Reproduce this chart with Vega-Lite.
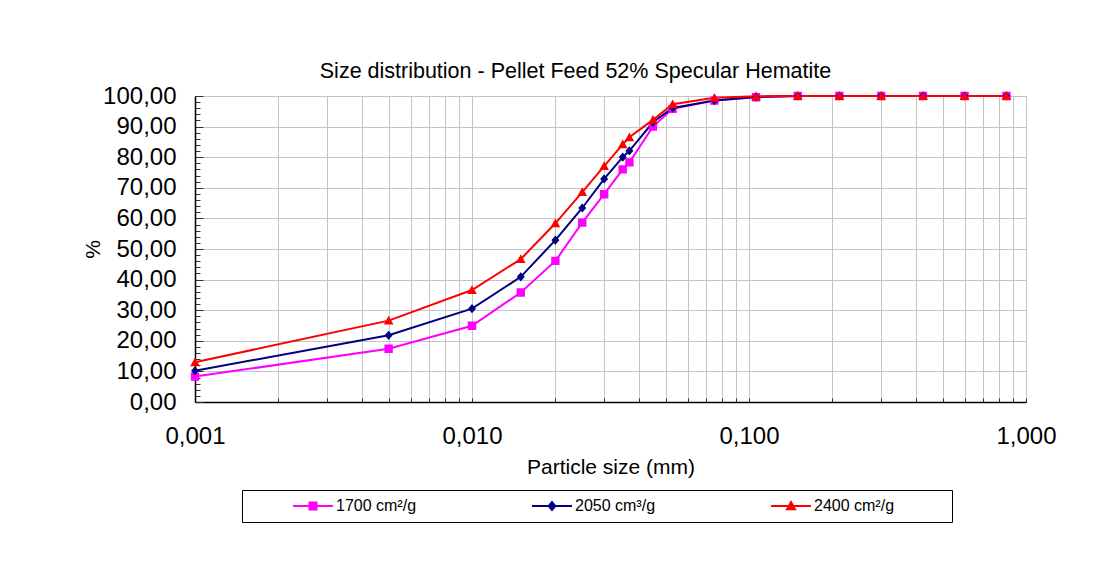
{
  "$schema": "https://vega.github.io/schema/vega-lite/v6.json",
  "width": 831,
  "height": 306,
  "autosize": {"type": "none"},
  "padding": {"left": 195, "top": 96, "right": 79, "bottom": 166},
  "background": "white",
  "config": {
    "font": "Liberation Sans",
    "view": {"stroke": "#8c8c8c", "strokeWidth": 1},
    "legend": {
      "orient": "none", "legendX": 47, "legendY": 394, "direction": "horizontal",
      "labelFontSize": 16, "labelColor": "black", "labelFont": "Liberation Sans",
      "symbolSize": 49, "symbolStrokeWidth": 2, "symbolOffset": 55, "labelOffset": 15,
      "columnPadding": 72, "padding": 8, "strokeColor": "black", "fillColor": "white",
      "titleOrient": "right", "titlePadding": 50, "titleFontSize": 16
    }
  },
  "title": {
    "text": "Size distribution - Pellet Feed 52% Specular Hematite",
    "fontSize": 21.5,
    "fontWeight": "normal",
    "font": "Liberation Sans",
    "color": "black",
    "anchor": "middle",
    "dx": -35,
    "offset": 2
  },
  "data": {
    "values": [
      {"size": 0.001, "series": "1700 cm²/g", "pct": 8.3},
      {"size": 0.005, "series": "1700 cm²/g", "pct": 17.4},
      {"size": 0.010, "series": "1700 cm²/g", "pct": 24.9},
      {"size": 0.015, "series": "1700 cm²/g", "pct": 35.8},
      {"size": 0.020, "series": "1700 cm²/g", "pct": 46.1},
      {"size": 0.025, "series": "1700 cm²/g", "pct": 58.6},
      {"size": 0.030, "series": "1700 cm²/g", "pct": 67.9},
      {"size": 0.035, "series": "1700 cm²/g", "pct": 76.0},
      {"size": 0.037, "series": "1700 cm²/g", "pct": 78.3},
      {"size": 0.045, "series": "1700 cm²/g", "pct": 90.0},
      {"size": 0.053, "series": "1700 cm²/g", "pct": 95.8},
      {"size": 0.075, "series": "1700 cm²/g", "pct": 98.5},
      {"size": 0.106, "series": "1700 cm²/g", "pct": 99.6},
      {"size": 0.150, "series": "1700 cm²/g", "pct": 100},
      {"size": 0.212, "series": "1700 cm²/g", "pct": 100},
      {"size": 0.300, "series": "1700 cm²/g", "pct": 100},
      {"size": 0.425, "series": "1700 cm²/g", "pct": 100},
      {"size": 0.600, "series": "1700 cm²/g", "pct": 100},
      {"size": 0.850, "series": "1700 cm²/g", "pct": 100},
      {"size": 0.001, "series": "2050 cm³/g", "pct": 10.2},
      {"size": 0.005, "series": "2050 cm³/g", "pct": 21.8},
      {"size": 0.010, "series": "2050 cm³/g", "pct": 30.5},
      {"size": 0.015, "series": "2050 cm³/g", "pct": 40.9},
      {"size": 0.020, "series": "2050 cm³/g", "pct": 52.9},
      {"size": 0.025, "series": "2050 cm³/g", "pct": 63.4},
      {"size": 0.030, "series": "2050 cm³/g", "pct": 72.9},
      {"size": 0.035, "series": "2050 cm³/g", "pct": 80.0},
      {"size": 0.037, "series": "2050 cm³/g", "pct": 82.1},
      {"size": 0.045, "series": "2050 cm³/g", "pct": 91.4},
      {"size": 0.053, "series": "2050 cm³/g", "pct": 96.1},
      {"size": 0.075, "series": "2050 cm³/g", "pct": 98.5},
      {"size": 0.106, "series": "2050 cm³/g", "pct": 99.7},
      {"size": 0.150, "series": "2050 cm³/g", "pct": 100},
      {"size": 0.212, "series": "2050 cm³/g", "pct": 100},
      {"size": 0.300, "series": "2050 cm³/g", "pct": 100},
      {"size": 0.425, "series": "2050 cm³/g", "pct": 100},
      {"size": 0.600, "series": "2050 cm³/g", "pct": 100},
      {"size": 0.850, "series": "2050 cm³/g", "pct": 100},
      {"size": 0.001, "series": "2400 cm²/g", "pct": 13.0},
      {"size": 0.005, "series": "2400 cm²/g", "pct": 26.6},
      {"size": 0.010, "series": "2400 cm²/g", "pct": 36.6},
      {"size": 0.015, "series": "2400 cm²/g", "pct": 46.7},
      {"size": 0.020, "series": "2400 cm²/g", "pct": 58.4},
      {"size": 0.025, "series": "2400 cm²/g", "pct": 68.6},
      {"size": 0.030, "series": "2400 cm²/g", "pct": 77.1},
      {"size": 0.035, "series": "2400 cm²/g", "pct": 84.2},
      {"size": 0.037, "series": "2400 cm²/g", "pct": 86.5},
      {"size": 0.045, "series": "2400 cm²/g", "pct": 92.2},
      {"size": 0.053, "series": "2400 cm²/g", "pct": 97.3},
      {"size": 0.075, "series": "2400 cm²/g", "pct": 99.4},
      {"size": 0.106, "series": "2400 cm²/g", "pct": 99.9},
      {"size": 0.150, "series": "2400 cm²/g", "pct": 100},
      {"size": 0.212, "series": "2400 cm²/g", "pct": 100},
      {"size": 0.300, "series": "2400 cm²/g", "pct": 100},
      {"size": 0.425, "series": "2400 cm²/g", "pct": 100},
      {"size": 0.600, "series": "2400 cm²/g", "pct": 100},
      {"size": 0.850, "series": "2400 cm²/g", "pct": 100}
    ]
  },
  "encoding": {
    "x": {
      "field": "size",
      "type": "quantitative",
      "scale": {"type": "log", "domain": [0.001, 1], "nice": false},
      "axis": {
        "values": [0.001, 0.002, 0.003, 0.004, 0.005, 0.006, 0.007, 0.008, 0.009, 0.01, 0.02, 0.03, 0.04, 0.05, 0.06, 0.07, 0.08, 0.09, 0.1, 0.2, 0.3, 0.4, 0.5, 0.6, 0.7, 0.8, 0.9, 1],
        "labelExpr": "indexof([0.001, 0.01, 0.1, 1], datum.value) >= 0 ? replace(format(datum.value, '.3f'), '.', ',') : ''",
        "labelOverlap": false,
        "labelFlush": false,
        "labelFontSize": 24,
        "labelColor": "black",
        "labelPadding": 26,
        "grid": true,
        "gridColor": "#c4c4c4",
        "gridWidth": 1,
        "domainColor": "black",
        "domainWidth": 1.5,
        "tickColor": "#333333",
        "tickSize": -4,
        "title": "Particle size (mm)",
        "titleFontSize": 21,
        "titleFontWeight": "normal",
        "titleColor": "black",
        "titleY": 65,
        "titleBaseline": "middle"
      }
    },
    "y": {
      "field": "pct",
      "type": "quantitative",
      "scale": {"domain": [0, 100], "nice": false},
      "axis": {
        "values": [0, 2, 4, 6, 8, 10, 12, 14, 16, 18, 20, 22, 24, 26, 28, 30, 32, 34, 36, 38, 40, 42, 44, 46, 48, 50, 52, 54, 56, 58, 60, 62, 64, 66, 68, 70, 72, 74, 76, 78, 80, 82, 84, 86, 88, 90, 92, 94, 96, 98, 100],
        "labelExpr": "datum.value % 10 === 0 ? replace(format(datum.value, '.2f'), '.', ',') : ''",
        "labelOverlap": false,
        "labelFlush": false,
        "labelFontSize": 24,
        "labelColor": "black",
        "labelPadding": 27,
        "grid": true,
        "gridColor": "#c4c4c4",
        "gridWidth": 1,
        "gridOpacity": {"condition": {"test": "datum.value % 10 === 0", "value": 1}, "value": 0},
        "domainColor": "black",
        "domainWidth": 1.5,
        "tickColor": "#333333",
        "tickSize": {"condition": {"test": "datum.value % 10 === 0", "value": -8}, "value": -5},
        "title": "%",
        "titleFontSize": 21,
        "titleFontWeight": "normal",
        "titleColor": "black",
        "titleX": -102,
        "titleY": 153,
        "titleAngle": -90,
        "titleBaseline": "middle",
        "titleAlign": "center"
      }
    }
  },
  "layer": [
    {
      "mark": {"type": "line", "strokeWidth": 2, "interpolate": "linear"},
      "encoding": {
        "stroke": {
          "field": "series",
          "type": "nominal",
          "scale": {"domain": ["1700 cm²/g", "2050 cm³/g", "2400 cm²/g"], "range": ["#ff00ff", "#000080", "#ff0000"]},
          "legend": {"title": "\u00a0"}
        }
      }
    },
    {
      "mark": {"type": "point", "filled": true, "size": 70, "opacity": 1},
      "encoding": {
        "strokeWidth": {"value": 0},
        "fill": {
          "field": "series",
          "type": "nominal",
          "scale": {"domain": ["1700 cm²/g", "2050 cm³/g", "2400 cm²/g"], "range": ["#ff00ff", "#000080", "#ff0000"]},
          "legend": {"title": "\u00a0"}
        },
        "stroke": {
          "field": "series",
          "type": "nominal",
          "legend": {"title": "\u00a0"}
        },
        "shape": {
          "field": "series",
          "type": "nominal",
          "scale": {
            "domain": ["1700 cm²/g", "2050 cm³/g", "2400 cm²/g"],
            "range": ["M-5.7,0H5.7M-1,-1H1V1H-1Z", "M-5.7,0H5.7M0,-1.1L0.95,0L0,1.1L-0.95,0Z", "M-5.7,0H5.7M0,-1.15L1.15,0.95H-1.15Z"]
          },
          "legend": {"title": "\u00a0"}
        }
      }
    }
  ]
}
